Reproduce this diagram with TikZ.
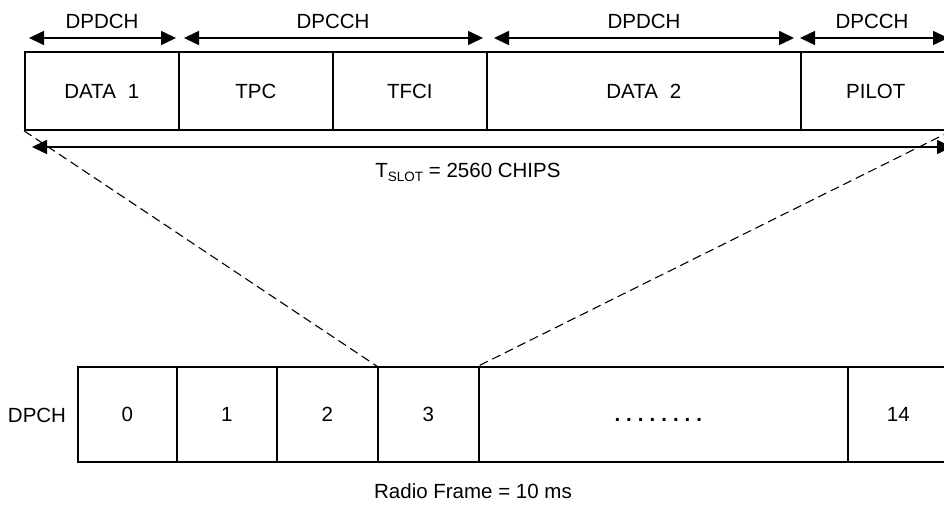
\documentclass[tikz,border=0pt]{standalone}
\usepackage{fontspec}
\setmainfont{Liberation Sans}
\usetikzlibrary{arrows.meta}
\begin{document}
\begin{tikzpicture}[x=1pt,y=-1pt,
  every node/.style={font=\fontsize{20.5}{24}\selectfont},
  cell/.style={draw,line width=1.6pt,inner sep=0pt,anchor=west},
  topcell/.style={cell,minimum height=78pt},
  botcell/.style={cell,minimum height=95pt},
  span/.style={line width=1.6pt,{Triangle[length=15pt,width=14pt]}-{Triangle[length=15pt,width=14pt]}},
  zoomline/.style={line width=1.1pt,dash pattern=on 9pt off 5pt},
  lbl/.style={inner sep=0pt}]
\clip (0,0) rectangle (944,518);
\fill[white] (0,0) rectangle (944,518);
% top slot
\node[topcell,minimum width=154pt] (d1) at (24,91) {DATA\hspace{12pt}1};
\node[topcell,minimum width=154pt] (tpc) at (178,91) {TPC};
\node[topcell,minimum width=154pt] (tfci) at (332,91) {TFCI};
\node[topcell,minimum width=314pt] (d2) at (486,91) {DATA\hspace{12pt}2};
\node[topcell,minimum width=150pt] (pilot) at (800,91) {PILOT};
% field arrows
\coordinate (a1l) at (29,38); \coordinate (a1r) at (176,38);
\coordinate (a2l) at (184,38); \coordinate (a2r) at (483,38);
\coordinate (a3l) at (494,38); \coordinate (a3r) at (794,38);
\coordinate (a4l) at (800,38); \coordinate (a4r) at (948,38);
\draw[span] (a1l) -- (a1r);
\draw[span] (a2l) -- (a2r);
\draw[span] (a3l) -- (a3r);
\draw[span] (a4l) -- (a4r);
\node[lbl] (l1) at (102,21) {DPDCH};
\node[lbl] (l2) at (333,21) {DPCCH};
\node[lbl] (l3) at (644,21) {DPDCH};
\node[lbl] (l4) at (872,21) {DPCCH};
% slot length
\coordinate (tl) at (32,147); \coordinate (tr) at (952,147);
\draw[span] (tl) -- (tr);
\node[lbl] (tslot) at (468,172) {T\raisebox{-4pt}{\fontsize{13.5}{14}\selectfont SLOT} = 2560 CHIPS};
% frame
\node[lbl] (dpch) at (37,415) {DPCH};
\node[botcell,minimum width=99pt] (s0) at (77,414.5) {0};
\node[botcell,minimum width=100pt] (s1) at (176,414.5) {1};
\node[botcell,minimum width=101pt] (s2) at (276,414.5) {2};
\node[botcell,minimum width=101pt] (s3) at (377,414.5) {3};
\node[botcell,minimum width=369pt] (sd) at (478,414.5) {\vphantom{0}\hspace*{-10pt}\textbf{.\hspace{6pt}.\hspace{6pt}.\hspace{6pt}.\hspace{6pt}.\hspace{6pt}.\hspace{6pt}.\hspace{6pt}.}};
\node[botcell,minimum width=101pt] (s14) at (847,414.5) {14};
\node[lbl] (rf) at (473,491) {Radio Frame = 10 ms};
% zoom lines
\draw[zoomline] (d1.south west) -- (s3.north west);
\draw[zoomline] (pilot.south east) -- (sd.north west);
\end{tikzpicture}
\end{document}
